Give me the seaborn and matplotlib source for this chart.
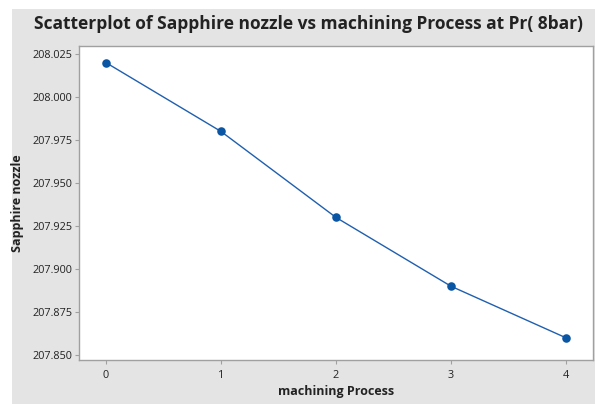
import matplotlib
matplotlib.use("Agg")
import matplotlib.pyplot as plt
import seaborn as sns
import pandas as pd
from matplotlib.patches import Rectangle

# data
machining_process = [0, 1, 2, 3, 4]
sapphire_nozzle = [208.020, 207.980, 207.930, 207.890, 207.860]
y_ticks = [207.850, 207.875, 207.900, 207.925, 207.950, 207.975, 208.000, 208.025]

df = pd.DataFrame({"machining Process": machining_process,
                   "Sapphire nozzle": sapphire_nozzle})

sns.set_theme(style="white")
plt.rcParams["font.family"] = ["Open Sans", "DejaVu Sans"]

W, H = 595, 404
fig = plt.figure(figsize=(W / 100, H / 100), dpi=100)
fig.patch.set_facecolor("white")

# minitab-like grey panel behind everything
bg = "#E4E4E4"
fig.patches.append(Rectangle((12 / W, 0), 1 - 12 / W, (H - 9) / H,
                             transform=fig.transFigure, facecolor=bg,
                             edgecolor="none", zorder=-10))

ax = fig.add_axes([79 / W, (H - 360) / H, (593 - 79) / W, (360 - 46) / H])
ax.set_facecolor("white")

blue = "#0B56A4"
sns.lineplot(data=df, x="machining Process", y="Sapphire nozzle", ax=ax,
             color="#1F5FAF", linewidth=1.0, zorder=2)
sns.scatterplot(data=df, x="machining Process", y="Sapphire nozzle", ax=ax,
                color=blue, s=38, edgecolor=blue, linewidth=0, zorder=3)

ax.set_xlim(-0.235, 4.235)
ax.set_ylim(207.8471, 208.0297)
ax.set_xticks(machining_process)
ax.set_yticks(y_ticks)
ax.set_yticklabels([f"{v:.3f}" for v in y_ticks])

for s in ax.spines.values():
    s.set_color("#A0A0A0")
    s.set_linewidth(1.0)

ax.tick_params(axis="both", which="major", direction="out", length=3,
               width=0.8, color="#A0A0A0", labelsize=7.8, labelcolor="#222222",
               pad=2, bottom=True, left=True)
ax.tick_params(axis="x", pad=4)

ax.set_xlabel("machining Process", fontsize=9, fontweight="bold",
              color="#222222", labelpad=3)
ax.set_ylabel("Sapphire nozzle", fontsize=9, fontweight="bold",
              color="#222222", labelpad=6)

fig.text(0.5 + 11 / W, 1 - 24 / H,
         "Scatterplot of Sapphire nozzle vs machining Process at Pr( 8bar)",
         ha="center", va="center", fontsize=12.5, fontweight="bold",
         color="#222222")

fig.savefig("out.png", dpi=100, facecolor=fig.get_facecolor())
